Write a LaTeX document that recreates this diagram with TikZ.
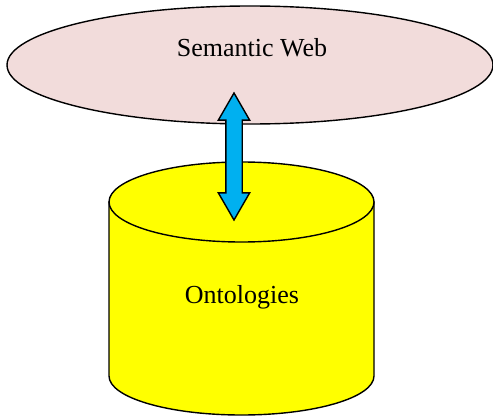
\documentclass[tikz,border=0pt]{standalone}
\usepackage{fontspec}
\setmainfont{Liberation Serif}
\usetikzlibrary{shapes.geometric, shapes.arrows}
\definecolor{webpink}{RGB}{242,220,219}
\definecolor{linkblue}{RGB}{0,176,240}
\definecolor{dbyellow}{RGB}{255,255,0}
\tikzset{
    webnode/.style = {ellipse, draw = black, line width = 1.4pt, fill = webpink, minimum width = 486pt, minimum height = 118pt, inner sep = 0pt},
    linkarrow/.style = {double arrow, draw = black, line width = 1.4pt, fill = linkblue, rotate = 90, minimum height = 127pt, minimum width = 30pt, double arrow head extend = 7.5pt, double arrow tip angle = 60, inner xsep = 0pt, inner ysep = 7.5pt},
    bigtext/.style = {font = \fontsize{26}{30}\selectfont}
}
\begin{document}
\begin{tikzpicture}[x = 1pt, y = 1pt]
            \useasboundingbox (0, 0) rectangle (493, 416);
            % the web on top
            \node[webnode] (web) at (250, 351) {};
            \node[bigtext] (webtext) at ([xshift = 2pt, yshift = 17pt]web.center) {Semantic Web};
            % the store underneath: side walls, bottom rim, then the lid
            \coordinate (dbtop) at (241.5, 214);
            \coordinate (dbbot) at (241.5, 40);
            \filldraw[fill = dbyellow, draw = black, line width = 1.4pt]
                ([xshift = -132.5pt]dbtop) -- ([xshift = -132.5pt]dbbot)
                arc[start angle = 180, end angle = 360, x radius = 132.5pt, y radius = 39pt]
                -- ([xshift = 132.5pt]dbtop) -- cycle;
            \filldraw[fill = dbyellow, draw = black, line width = 1.4pt] (dbtop) ellipse[x radius = 132.5pt, y radius = 40pt];
            \node[bigtext] (dbtext) at (242, 119) {Ontologies};
            % the link between them
            \node[linkarrow] (link) at (234, 259.5) {};
        \end{tikzpicture}
\end{document}
